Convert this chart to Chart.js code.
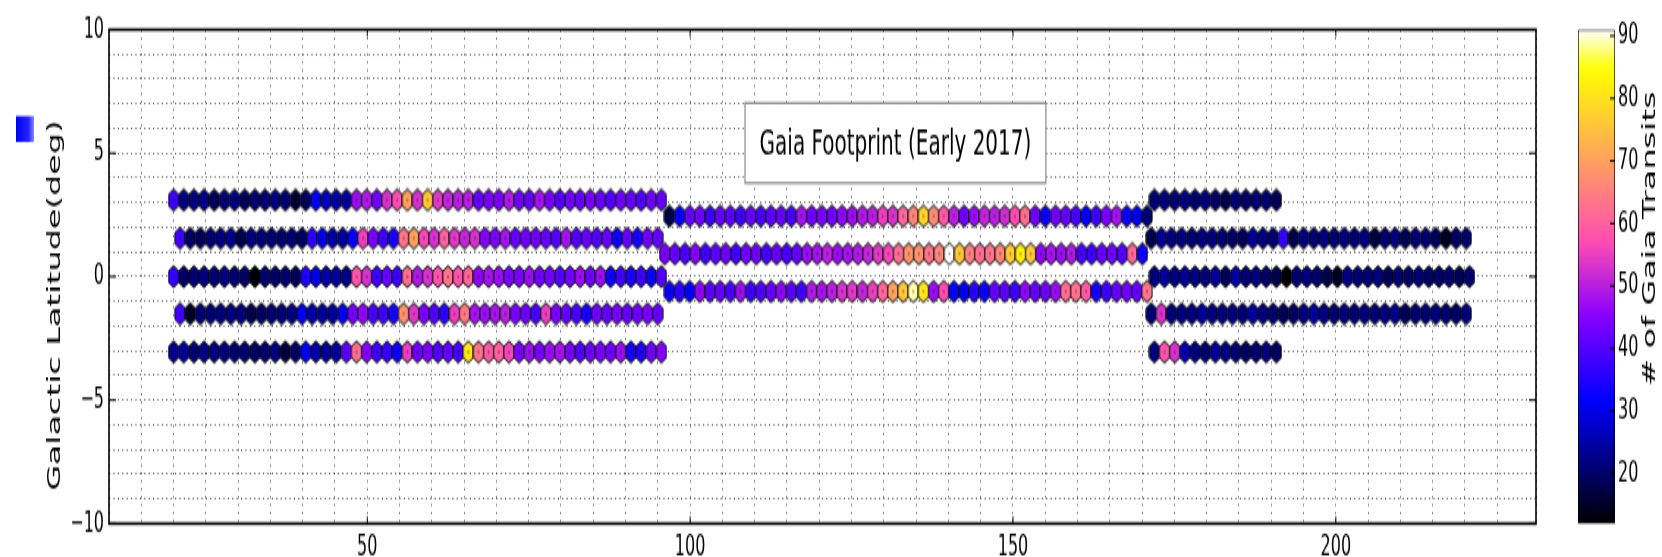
<!DOCTYPE html>
<html lang="en">
<head>
<meta charset="UTF-8">
<title>Gaia Footprint (Early 2017)</title>
<style>
  html, body { margin: 0; padding: 0; background: #fff; }
  #stage { position: relative; width: 1662px; height: 557px; overflow: hidden; }
  /* the source figure is stretched vertically: each canvas draws 310px tall and is shown 557px tall */
  #mainChart { position: absolute; left: 0; top: 0; width: 1662px; height: 557px; }
  #barChart { position: absolute; left: 1560px; top: 0; width: 102px; height: 557px; }
</style>
</head>
<body>
<div id="stage">
  <canvas id="mainChart" width="1662" height="310" style="width:1662px;height:557px"></canvas>
  <canvas id="barChart" width="102" height="310" style="width:102px;height:557px"></canvas>
</div>
<script src="https://cdn.jsdelivr.net/npm/chart.js"></script>
<script>
const FONT = 'DejaVu Sans';

// colour scale limits (# of Gaia transits)
const vMin = 12, vMax = 91;
// hexbin cell width in degrees of longitude
const binWidth = 1.574;

// transits per cell, read left to right along each strip
const westRow1 = [38,22,22,23,19,21,22,19,21,21,22,21,16,19,31,27,25,24,47,49,43,53,57,70,53,76,54,51,50,50,42,44,44,49,43,42,48,44,40,43,42,44,42,40,43,42,40,43,42];
const westRow2 = [38,20,19,21,22,23,18,22,22,21,21,21,20,36,30,25,24,32,55,44,38,34,63,70,56,53,60,54,51,53,45,44,48,42,43,43,42,40,48,40,42,40,42,33,42,34,43,42];
const westRow3 = [37,20,21,22,21,22,21,20,12,21,20,21,19,35,30,25,24,23,58,53,38,42,38,62,49,53,58,63,58,61,46,48,47,44,44,47,43,43,40,43,47,43,47,33,38,34,38,33,40];
const westRow4 = [38,15,21,21,22,22,22,18,20,21,21,22,31,25,24,24,31,43,46,39,38,34,68,54,44,40,36,55,64,48,47,48,50,44,43,39,55,44,42,39,34,43,42,44,42,43,44,42];
const westRow5 = [23,24,21,23,22,22,21,21,20,21,22,17,20,31,25,24,24,41,62,45,38,37,33,55,43,44,40,42,39,81,63,59,60,56,44,47,44,47,48,44,40,43,44,43,47,34,35,43,45];
const midRow1 = [18,32,42,43,38,42,41,38,42,39,41,42,39,48,43,44,43,46,47,49,50,55,53,61,66,78,67,59,50,43,47,51,50,52,57,62,43,33,43,42,39,32,38,44,48,33,31,21];
const midRow2 = [44,42,39,45,38,41,43,38,43,43,39,42,39,42,47,48,50,47,48,49,51,54,56,62,68,68,63,66,91,76,65,62,63,66,77,82,76,46,48,47,49,39,38,42,43,40,61,33];
const midRow3 = [33,36,32,46,41,42,39,47,38,40,42,46,41,38,49,48,50,53,54,51,55,61,70,76,89,81,47,57,32,31,36,33,42,41,38,46,42,43,47,62,63,59,34,38,42,43,42,63];
const eastRow1 = [21,22,21,22,21,22,20,18,21,20,21,21,19];
const eastRow2 = [18,24,22,22,21,22,22,21,20,19,24,22,21,37,18,22,21,22,21,22,21,22,17,21,22,19,21,21,19,15,20,21];
const eastRow3 = [22,24,22,24,22,22,24,19,25,21,22,20,18,12,21,22,21,18,15,22,21,21,22,19,21,20,21,20,20,21,19,21];
const eastRow4 = [21,53,21,22,22,24,22,22,22,21,25,22,21,19,20,22,24,22,21,22,21,22,21,22,23,19,21,21,22,21,20,22];
const eastRow5 = [22,58,53,26,22,21,24,22,21,20,21,22,20];

const rows = [westRow1, westRow2, westRow3, westRow4, westRow5, midRow1, midRow2, midRow3, eastRow1, eastRow2, eastRow3, eastRow4, eastRow5];
// galactic latitude of each strip and longitude of its first cell
const rowLat = [3.1, 1.56, 0.0, -1.5, -3.05, 2.45, 0.92, -0.6, 3.1, 1.56, 0.0, -1.5, -3.05];
const rowLonStart = [20.0, 21.0, 20.0, 21.0, 20.0, 96.78, 96.07, 96.78, 171.9, 171.4, 171.9, 171.4, 171.9];

const xTickLabels = [50, 100, 150, 200];
const yTickLabels = [-10, -5, 0, 5, 10];
const colorTicks = [20, 30, 40, 50, 60, 70, 80, 90];

// matplotlib gnuplot2 colormap
function gnuplot2(v) {
  const clip = t => Math.min(1, Math.max(0, t));
  const x = clip((v - vMin) / (vMax - vMin));
  const r = clip(x / 0.32 - 0.78125);
  const g = clip(2 * x - 0.84);
  let b;
  if (x < 0.25) b = 4 * x;
  else if (x < 0.42) b = 1;
  else if (x < 0.92) b = -2 * x + 1.84;
  else b = x / 0.08 - 11.5;
  b = clip(b);
  return `rgb(${Math.round(r * 255)},${Math.round(g * 255)},${Math.round(b * 255)})`;
}

const hexCache = {};
function hexMarker(color) {
  if (hexCache[color]) return hexCache[color];
  const c = document.createElement('canvas');
  c.width = 12; c.height = 14;
  const g = c.getContext('2d');
  const cx = 6, cy = 7, hw = 5.1, hh = 6.1;
  g.beginPath();
  g.moveTo(cx, cy - hh);
  g.lineTo(cx + hw, cy - hh / 2);
  g.lineTo(cx + hw, cy + hh / 2);
  g.lineTo(cx, cy + hh);
  g.lineTo(cx - hw, cy + hh / 2);
  g.lineTo(cx - hw, cy - hh / 2);
  g.closePath();
  g.fillStyle = color;
  g.fill();
  g.lineWidth = 0.9;
  g.strokeStyle = '#000';
  g.stroke();
  g.fillStyle = 'rgba(0,0,0,0.7)';
  g.fillRect(cx - 0.6, cy - 0.6, 1.2, 1.2);
  hexCache[color] = c;
  return c;
}

const datasets = rows.map((vals, i) => ({
  data: vals.map((v, k) => ({ x: rowLonStart[i] + k * binWidth, y: rowLat[i], v: v })),
  pointStyle: ctx => ctx.raw ? hexMarker(gnuplot2(ctx.raw.v)) : 'circle',
  pointRadius: 5
}));

// text box position in data coordinates
const noteLon = [108.5, 155.1];
const noteLat = [3.79, 7.03];
const noteText = 'Gaia Footprint (Early 2017)';

const extras = {
  id: 'extras',
  afterDatasetsDraw(chart) {
    const c = chart.ctx;
    const a = chart.chartArea;
    const xs = chart.scales.x, ys = chart.scales.y;

    // annotation box
    const x1 = xs.getPixelForValue(noteLon[0]), x2 = xs.getPixelForValue(noteLon[1]);
    const y1 = ys.getPixelForValue(noteLat[1]), y2 = ys.getPixelForValue(noteLat[0]);
    c.save();
    c.fillStyle = '#fff';
    c.fillRect(x1, y1, x2 - x1, y2 - y1);
    c.strokeStyle = '#8a8a8a';
    c.lineWidth = 1.2;
    c.strokeRect(x1, y1, x2 - x1, y2 - y1);
    c.fillStyle = '#000';
    c.font = `20px ${FONT}`;
    c.textAlign = 'center';
    c.textBaseline = 'middle';
    c.fillText(noteText, (x1 + x2) / 2, (y1 + y2) / 2 + 1);

    // major ticks, pointing inwards on all four sides
    c.strokeStyle = '#000';
    c.lineWidth = 1;
    c.beginPath();
    xTickLabels.forEach(v => {
      const px = xs.getPixelForValue(v);
      c.moveTo(px, a.bottom); c.lineTo(px, a.bottom - 4);
      c.moveTo(px, a.top); c.lineTo(px, a.top + 4);
    });
    yTickLabels.forEach(v => {
      const py = ys.getPixelForValue(v);
      c.moveTo(a.left, py); c.lineTo(a.left + 7, py);
      c.moveTo(a.right, py); c.lineTo(a.right - 7, py);
    });
    c.stroke();

    // frame
    c.lineWidth = 1.6;
    c.strokeRect(a.left, a.top, a.right - a.left, a.bottom - a.top);

    // y axis title
    c.font = `18.5px ${FONT}`;
    c.translate(55, 170);
    c.rotate(-Math.PI / 2);
    c.fillText('Galactic Latitude(deg)', 0, 0);
    c.restore();

    // legend patch
    c.save();
    const grad = c.createLinearGradient(16, 0, 34, 0);
    grad.addColorStop(0, '#0000ff');
    grad.addColorStop(0.7, '#2424ff');
    grad.addColorStop(1, '#8a8aff');
    c.fillStyle = grad;
    c.fillRect(16, 64.6, 18, 14.4);
    c.restore();
  }
};

new Chart(document.getElementById('mainChart'), {
  type: 'scatter',
  data: { datasets: datasets },
  options: {
    responsive: false,
    animation: false,
    events: [],
    layout: { padding: { top: 16.5, right: 126, left: 0, bottom: 0 } },
    plugins: { legend: { display: false }, tooltip: { enabled: false } },
    scales: {
      x: {
        type: 'linear', min: 10, max: 231,
        afterFit: s => { s.height = 18.6; },
        ticks: {
          stepSize: 5, autoSkip: false, maxRotation: 0, padding: 4,
          color: '#000', font: { family: FONT, size: 16 },
          callback: v => xTickLabels.includes(v) ? String(v) : ''
        },
        grid: { color: '#444', lineWidth: 0.8, drawTicks: false },
        border: { display: false, dash: [1.2, 3.2] }
      },
      y: {
        min: -10, max: 10,
        afterFit: s => { s.width = 109; },
        ticks: {
          stepSize: 1, autoSkip: false, padding: 5,
          color: '#000', font: { family: FONT, size: 16 },
          callback: v => yTickLabels.includes(v) ? String(v).replace('-', '\u2212') : ''
        },
        grid: { color: '#444', lineWidth: 0.8, drawTicks: false },
        border: { display: false, dash: [1.2, 3.2] }
      }
    }
  },
  plugins: [extras]
});

function colorbarFill(chart) {
  const area = chart.chartArea;
  if (!area) return '#000';
  const grad = chart.ctx.createLinearGradient(0, area.bottom, 0, area.top);
  for (let i = 0; i <= 40; i++) {
    grad.addColorStop(i / 40, gnuplot2(vMin + (vMax - vMin) * i / 40));
  }
  return grad;
}

const colorbarTitle = {
  id: 'colorbarTitle',
  afterDraw(chart) {
    const c = chart.ctx;
    const a = chart.chartArea;
    const ys = chart.scales.y;
    c.save();
    // small inward tick marks on the right edge of the bar
    c.strokeStyle = '#000';
    c.lineWidth = 1;
    c.beginPath();
    colorTicks.forEach(v => {
      const py = ys.getPixelForValue(v);
      c.moveTo(a.right, py); c.lineTo(a.right - 5, py);
    });
    c.stroke();
    c.fillStyle = '#000';
    c.font = `18.5px ${FONT}`;
    c.textAlign = 'center';
    c.textBaseline = 'middle';
    c.translate(90.5, 133);
    c.rotate(-Math.PI / 2);
    c.fillText('# of Gaia Transits', 0, 0);
    c.restore();
  }
};

new Chart(document.getElementById('barChart'), {
  type: 'bar',
  data: {
    labels: [''],
    datasets: [{
      data: [[vMin, vMax]],
      backgroundColor: ctx => colorbarFill(ctx.chart),
      borderColor: '#000',
      borderWidth: 1,
      borderSkipped: false,
      barPercentage: 1,
      categoryPercentage: 1
    }]
  },
  options: {
    responsive: false,
    animation: false,
    events: [],
    layout: { padding: { left: 18, top: 16.5, bottom: 18.6, right: 0 } },
    plugins: { legend: { display: false }, tooltip: { enabled: false } },
    scales: {
      x: { display: false },
      y: {
        position: 'right', min: vMin, max: vMax,
        afterFit: s => { s.width = 47; },
        afterBuildTicks: s => { s.ticks = colorTicks.map(v => ({ value: v })); },
        ticks: { padding: 3, color: '#000', font: { family: FONT, size: 16 } },
        grid: { display: false, drawTicks: false },
        border: { display: false }
      }
    }
  },
  plugins: [colorbarTitle]
});
</script>
</body>
</html>
